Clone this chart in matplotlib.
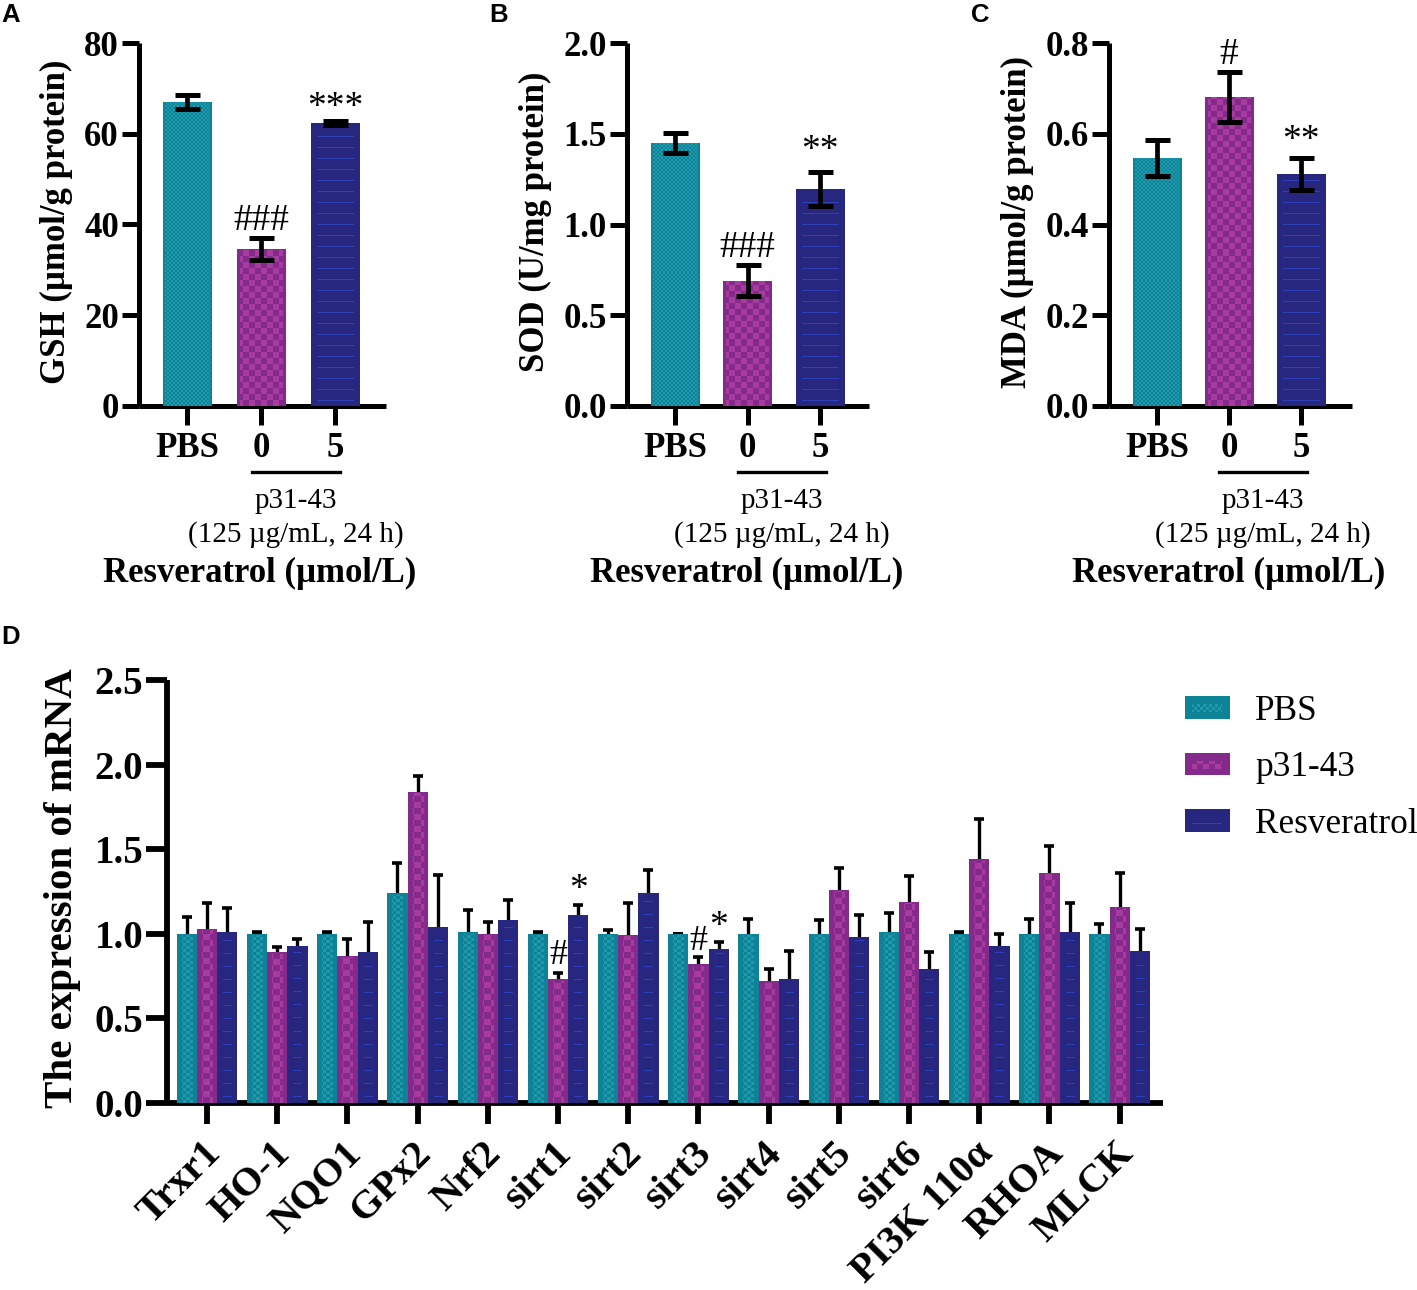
import numpy as np
import matplotlib
matplotlib.use('Agg')
from matplotlib import pyplot as plt
from matplotlib.patches import Patch
from matplotlib.transforms import ScaledTranslation

W, H = 1417, 1290

# panels A-C
small_labels = ['PBS', '0', '5']
gsh = [67.0, 34.6, 62.3]
gsh_err = [1.5, 2.4, 0.4]
sod = [1.45, 0.69, 1.195]
sod_err = [0.055, 0.085, 0.095]
mda = [0.547, 0.681, 0.511]
mda_err = [0.04, 0.055, 0.035]

# panel D
genes = ['Trxr1', 'HO-1', 'NQO1', 'GPx2', 'Nrf2', 'sirt1', 'sirt2', 'sirt3',
         'sirt4', 'sirt5', 'sirt6', 'PI3K 110α', 'RHOA', 'MLCK']
pbs = [1.00, 1.00, 1.00, 1.24, 1.01, 1.00, 1.00, 1.00, 1.00, 1.00, 1.01, 1.00, 1.00, 1.00]
pbs_top = [1.10, 1.01, 1.01, 1.42, 1.14, 1.01, 1.02, 1.00, 1.09, 1.08, 1.12, 1.01, 1.09, 1.06]
p31 = [1.03, 0.89, 0.87, 1.84, 1.00, 0.73, 0.995, 0.82, 0.72, 1.26, 1.19, 1.44, 1.36, 1.16]
p31_top = [1.18, 0.92, 0.97, 1.93, 1.07, 0.77, 1.18, 0.86, 0.79, 1.39, 1.34, 1.68, 1.52, 1.36]
res = [1.01, 0.93, 0.89, 1.04, 1.08, 1.11, 1.24, 0.91, 0.73, 0.98, 0.79, 0.93, 1.01, 0.90]
res_top = [1.15, 0.97, 1.07, 1.35, 1.20, 1.17, 1.38, 0.95, 0.90, 1.11, 0.89, 1.00, 1.18, 1.03]

TEAL, TEAL_L = '#0e8398', '#1f9aac'
MAG, MAG_L = '#842a8a', '#a73b9f'
NAVY, NAVY_L = '#27277f', '#2f3fb5'

plt.rcParams['font.family'] = ['Liberation Serif', 'DejaVu Sans']
plt.rcParams['font.weight'] = 'bold'
plt.rcParams['axes.labelweight'] = 'bold'


def make_texture(w, h, kind, color, cell, margin):
    # little RGBA picture of the graphpad style fill
    yy, xx = np.mgrid[0:h, 0:w]
    if kind == 'check':
        mask = (xx // cell + yy // cell) % 2 == 0
    else:
        mask = yy % cell == cell // 2
    mask &= (xx >= margin) & (xx < w - margin) & (yy < h - margin // 2)
    rgba = np.zeros((h, w, 4))
    rgba[..., :3] = matplotlib.colors.to_rgb(color)
    rgba[..., 3] = mask
    return rgba


def texture_bars(ax, bars, kind, color, cell, margin):
    xlim, ylim = ax.get_xlim(), ax.get_ylim()
    for b in bars:
        ext = b.get_window_extent()
        w, h = int(round(ext.width)), int(round(ext.height))
        tex = make_texture(w, h, kind, color, cell, margin)
        ax.imshow(tex, origin='lower', aspect='auto', interpolation='nearest', zorder=3.5,
                  extent=(b.get_x(), b.get_x() + b.get_width(), 0, b.get_height()))
    ax.set_xlim(xlim)
    ax.set_ylim(ylim)


def px_axes(fig, left, right, top, bottom):
    return fig.add_axes([left / W, 1 - bottom / H, (right - left) / W, (bottom - top) / H])


def style_axes(ax, lw, ticklen, size):
    ax.spines['top'].set_visible(False)
    ax.spines['right'].set_visible(False)
    ax.spines['left'].set_linewidth(lw)
    ax.spines['bottom'].set_linewidth(lw)
    ax.spines['left'].set_capstyle('butt')
    ax.spines['bottom'].set_capstyle('butt')
    ax.tick_params(width=lw, length=ticklen, labelsize=size, pad=3)
    ax.patch.set_alpha(0)


def small_panel(fig, letter, left, right, pitch, vals, errs, ymax, step, fmt, ylabel, notes, label_x):
    ax = px_axes(fig, left, right, 43, 406)
    x = np.arange(3)
    ax.set_xlim(-48 / pitch, -48 / pitch + (right - left) / pitch)
    ax.set_ylim(0, ymax)
    cols = [TEAL, MAG, NAVY]
    bars = ax.bar(x, vals, width=49 / pitch, color=cols, zorder=3)
    ax.errorbar(x, vals, yerr=errs, fmt='none', ecolor='k', elinewidth=3.4, capsize=9,
                capthick=3.6, zorder=4)
    texture_bars(ax, [bars[0]], 'check', TEAL_L, 2, 2)
    texture_bars(ax, [bars[1]], 'check', MAG_L, 6, 3)
    texture_bars(ax, [bars[2]], 'line', NAVY_L, 11, 6)
    ax.set_xticks(x)
    ax.set_xticklabels(small_labels)
    ticks = np.arange(0, ymax + step / 2, step)
    ax.set_yticks(ticks)
    ax.set_yticklabels([fmt.format(t) for t in ticks])
    style_axes(ax, 3.6, 12.5, 25)
    ax.tick_params(axis='y', pad=2)
    ax.tick_params(axis='x', length=14, pad=5)
    ax.set_ylabel(ylabel, fontsize=25, labelpad=8, y=0.508)
    for i, s, size, off in notes:
        ax.text(i, vals[i] + errs[i] + off * ymax, s, ha='center', va='bottom',
                fontsize=size, fontweight='normal')

    # bracket and texts under the axis
    c = left + 48 + pitch * 1.5 - 2
    fig.add_artist(plt.Line2D([(c - 44) / W, (c + 44) / W], [1 - 472 / H] * 2, color='k', lw=2.4))
    fig.text(c / W, 1 - 501 / H, 'p31-43', ha='center', va='center', fontsize=21, fontweight='normal')
    fig.text(c / W, 1 - 535 / H, '(125 µg/mL, 24 h)', ha='center', va='center', fontsize=21, fontweight='normal')
    fig.text(label_x / W, 1 - 573 / H, 'Resveratrol (µmol/L)', ha='center', va='center', fontsize=25)
    fig.text((left - 139 + 1) / W, 1 - 15 / H, letter, family='Liberation Sans', fontsize=18.5, va='center')
    return ax


def main():
    fig = plt.figure(figsize=(W / 100, H / 100), dpi=100)

    small_panel(fig, 'A', 139, 386, 74, gsh, gsh_err, 80, 20, '{:.0f}', 'GSH (µmol/g protein)',
                [(1, '###', 27, 0.0), (2, '***', 27, -0.01)], 260)
    small_panel(fig, 'B', 627, 869, 72.5, sod, sod_err, 2.0, 0.5, '{:.1f}', 'SOD (U/mg protein)',
                [(1, '###', 27, 0.0), (2, '**', 27, 0.012)], 747)
    small_panel(fig, 'C', 1109, 1352, 72, mda, mda_err, 0.8, 0.2, '{:.1f}', 'MDA (µmol/g protein)',
                [(1, '#', 27, 0.0), (2, '**', 27, 0.0)], 1229)

    # panel D
    ax = px_axes(fig, 167, 1163, 680, 1103)
    x = np.arange(len(genes))
    pitch = 70.2
    ax.set_xlim(-40 / pitch, -40 / pitch + (1163 - 167) / pitch)
    ax.set_ylim(0, 2.5)
    width = 20.2 / pitch
    series = [(pbs, pbs_top, TEAL, TEAL_L, 'check', 3, 5),
              (p31, p31_top, MAG, MAG_L, 'check', 6, 5),
              (res, res_top, NAVY, NAVY_L, 'line', 13, 6)]
    for k, (vals, tops, col, light, kind, cell, margin) in enumerate(series):
        pos = x + (k - 1) * width
        vals = np.array(vals)
        bars = ax.bar(pos, vals, width=width, color=col, zorder=3)
        ax.errorbar(pos, vals, yerr=np.array(tops) - vals, fmt='none', ecolor='k', elinewidth=2.4,
                    capsize=3.6, capthick=2.6, zorder=2)
        texture_bars(ax, bars, kind, light, cell, margin)
    ax.set_yticks([0, 0.5, 1.0, 1.5, 2.0, 2.5])
    ax.set_yticklabels(['0.0', '0.5', '1.0', '1.5', '2.0', '2.5'])
    style_axes(ax, 4.2, 15, 28)
    ax.tick_params(axis='y', pad=2)
    ax.set_xticks(x)
    ax.set_xticklabels(genes, rotation=45, ha='right', rotation_mode='anchor', fontsize=29)
    ax.tick_params(axis='x', length=15, pad=8)
    shift = ScaledTranslation(-5 / 100, 0, fig.dpi_scale_trans)
    for lab in ax.get_xticklabels():
        lab.set_transform(lab.get_transform() + shift)
    ax.set_ylabel('The expression of mRNA', fontsize=29.5, labelpad=10, y=0.508)

    # significance marks
    ax.text(x[5], p31_top[5] + 0.005, '#', ha='center', va='bottom', fontsize=26, fontweight='normal')
    ax.text(x[5] + width, res_top[5] - 0.01, '*', ha='center', va='bottom', fontsize=27, fontweight='normal')
    ax.text(x[7], p31_top[7] - 0.005, '#', ha='center', va='bottom', fontsize=26, fontweight='normal')
    ax.text(x[7] + width, res_top[7] - 0.01, '*', ha='center', va='bottom', fontsize=27, fontweight='normal')

    fig.text(1 / W, 1 - 637 / H, 'D', family='Liberation Sans', fontsize=18.5, va='center')

    # legend
    handles = [Patch(facecolor=TEAL, label='PBS'), Patch(facecolor=MAG, label='p31-43'),
               Patch(facecolor=NAVY, label='Resveratrol')]
    leg = fig.legend(handles=handles, loc='upper left', bbox_to_anchor=(1185 / W, 1 - 695 / H),
                     frameon=False, handlelength=1.275, handleheight=0.6, handletextpad=0.72,
                     labelspacing=0.665, prop={'size': 25.4, 'weight': 'normal'}, borderpad=0, borderaxespad=0)
    fig.canvas.draw()
    swatches = [('check', TEAL_L, 3), ('check', MAG_L, 6), ('line', NAVY_L, 13)]
    for h, (kind, light, cell) in zip(leg.legend_handles, swatches):
        ext = h.get_window_extent()
        tex = make_texture(int(ext.width), int(ext.height), kind, light, cell, 7)
        if kind == 'line':
            tex[:, :, 3] = 0
            tex[int(ext.height) // 2 - 3, 7:-7, 3] = 1
        else:
            tex[:7, :, 3] = 0
            tex[-7:, :, 3] = 0
        fig.figimage(tex, xo=int(ext.x0), yo=int(ext.y0), origin='lower', zorder=6)

    fig.savefig('out.png', dpi=100)


if __name__ == '__main__':
    main()
